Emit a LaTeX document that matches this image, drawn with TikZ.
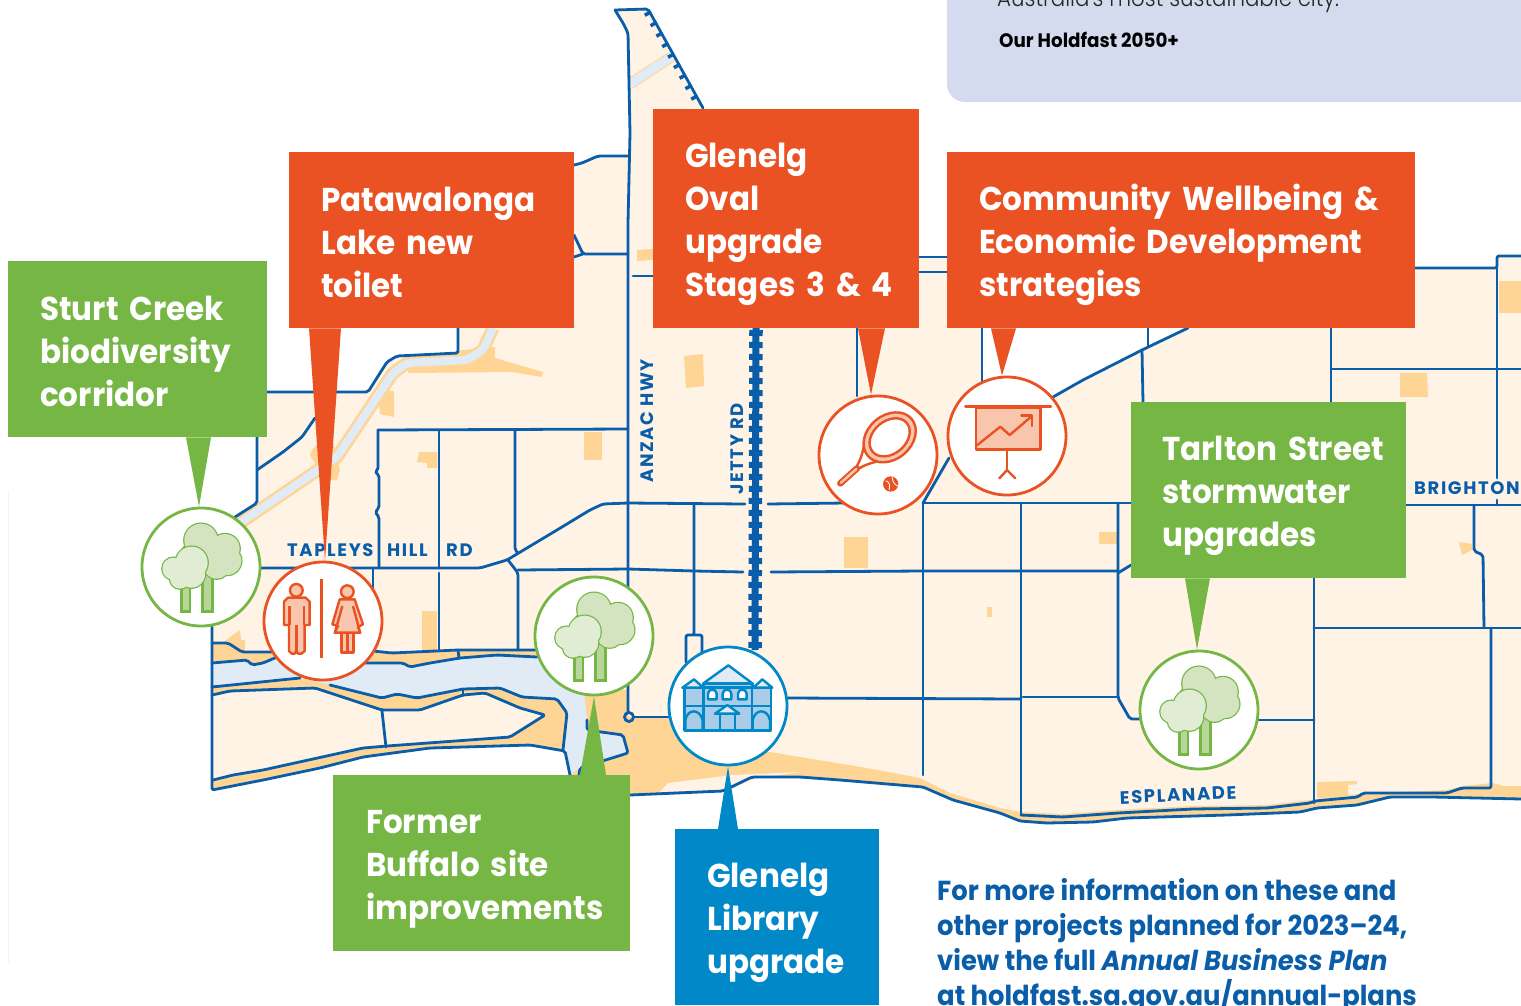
\documentclass[tikz,border=0pt]{standalone}
\usepackage{fontspec}
\newfontfamily\lab[FakeStretch=0.94,BoldFont={Poppins Bold},BoldItalicFont={Poppins Bold Italic}]{Poppins}
\newfontfamily\labthin[FakeStretch=0.89]{Poppins Light}
\newfontfamily\labsp[FakeStretch=1.0,LetterSpace=9,BoldFont={Poppins Bold}]{Poppins}
\definecolor{land}{HTML}{FFF3E5}
\definecolor{sand}{HTML}{FFD596}
\definecolor{water}{HTML}{E1EBF6}
\definecolor{road}{HTML}{0A5DA8}
\definecolor{corange}{HTML}{EA5224}
\definecolor{lorange}{HTML}{F7C6AC}
\definecolor{cgreen}{HTML}{75B644}
\definecolor{cblue}{HTML}{0088C8}
\definecolor{lblue}{HTML}{A9CDE9}
\definecolor{panel}{HTML}{D5DBEF}
\definecolor{treea}{HTML}{D4E3C0}
\definecolor{treeb}{HTML}{E0ECD4}
\definecolor{treec}{HTML}{B8D699}
\tikzset{
  rd/.style={draw=road,line width=2.8pt,line join=round,line cap=round,rounded corners=2pt},
  callout/.style={anchor=north west,inner ysep=0pt,text=white,align=left,font=\lab\bfseries\fontsize{33}{43}\selectfont},
  disc/.style={circle,fill=white,line width=2.8pt,minimum size=118pt,inner sep=0pt},
  maptext/.style={text=road,font=\labsp\bfseries\fontsize{18}{20}\selectfont,inner sep=0pt}
}
\newcommand\tp{\rule{0pt}{36pt}}
\newcommand\bt{\rule[-8pt]{0pt}{8pt}}
\newcommand\ptr[5]{\fill[#5] ([xshift=#2pt]#1) -- ([xshift=#3pt]#1) -- (#4) -- cycle;}
\newcommand\treeicon[1]{%
 \begin{scope}[shift={(#1.center)}]\begin{scope}[x=.3333pt,y=-.3333pt,shift={(-213,-740)}]
  \tikzset{tl/.style={draw=cgreen,line width=2.4pt}}
  \draw[tl,fill=treec] (218,760) rectangle (247,873);
  \draw[tl,fill=treec] (155,790) rectangle (180,873);
  \foreach \a/\b/\r in {213/660/50,285/685/44,292/722/42,260/735/40,190/710/40}{\draw[tl,fill=treea] (\a,\b) circle[radius=\r];}
  \foreach \a/\b/\r in {213/660/50,285/685/44,292/722/42,260/735/40,190/710/40,235/700/50}{\fill[treea] (\a,\b) circle[radius=\r];}
  \foreach \a/\b/\r in {185/727/48,130/745/33,150/775/30,185/762/40}{\draw[tl,fill=treeb] (\a,\b) circle[radius=\r];}
  \foreach \a/\b/\r in {185/727/48,130/745/33,150/775/30,185/762/40,165/750/30}{\fill[treeb] (\a,\b) circle[radius=\r];}
 \end{scope}\end{scope}}
\begin{document}
\begin{tikzpicture}[x=1pt,y=-1pt]
\useasboundingbox (0,0) rectangle (1521,1005);
\clip (0,0) rectangle (1521,1005);
\fill[white] (0,0) rectangle (1521,1005);
\draw[land,line width=1pt] (8.5,491) -- (8.5,964);
% panel
\fill[panel,rounded corners=18pt] (947,-40) rectangle (1560,102);
\node[anchor=base west,inner sep=0pt,font=\labthin\fontsize{24}{28}\selectfont,text=black!85] (ptop) at (997,6) {Australia's most sustainable city.};
\node[anchor=base west,inner sep=0pt,font=\lab\bfseries\fontsize{19.5}{24}\selectfont,text=black] (pname) at (999,47) {Our Holdfast 2050+};
% land
\fill[land] (212,627) -- (235,517) -- (257,503) -- (257,392) -- (368,392) -- (387,362) -- (397,356) -- (458,353) -- (458,328) -- (470,250) -- (574,165) -- (582,163) -- (598,156) -- (628,156) -- (630,133) -- (628,33) -- (623,23) -- (615,10) -- (648,9) -- (703,108) -- (703,200) -- (919,257) -- (982,257) -- (982,390) -- (1000,430) -- (1053,397) -- (1083,380) -- (1142,350) -- (1188,328) -- (1300,268) -- (1497,268) -- (1497,256) -- (1521,256) -- (1521,799) -- (1433,797) -- (1390,797) -- (1357,805) -- (1317,808) -- (1300,812) -- (1227,815) -- (1127,818) -- (1093,822) -- (1047,823) -- (1020,821) -- (1000,813) -- (953,800) -- (923,787) -- (840,780) -- (800,777) -- (752,777) -- (723,791) -- (630,795) -- (575,795) -- (570,775) -- (565,751) -- (530,745) -- (497,746) -- (430,748) -- (363,757) -- (320,768) -- (263,780) -- (212,790) -- cycle;
% sand patches
\fill[sand] (212,643) -- (228,643) -- (242,652) -- (373,651) -- (392,653) -- (458,650) -- (537,650) -- (590,650) -- (590,760) -- (565,751) -- (530,745) -- (497,746) -- (430,748) -- (363,757) -- (320,768) -- (263,780) -- (212,790) -- cycle;
\fill[sand] (587,690) -- (628,690) -- (628,717) -- (670,717) -- (700,745) -- (770,752) -- (867,768) -- (920,778) -- (950,793) -- (1000,808) -- (1021,812) -- (1063,814) -- (1118,810) -- (1193,806) -- (1267,805) -- (1310,800) -- (1358,794) -- (1447,790) -- (1462,786) -- (1493,783) -- (1503,786) -- (1521,786) -- (1521,799) -- (1433,797) -- (1390,797) -- (1357,805) -- (1317,808) -- (1300,812) -- (1227,815) -- (1127,818) -- (1093,822) -- (1047,823) -- (1020,821) -- (1000,813) -- (953,800) -- (923,787) -- (840,780) -- (800,777) -- (752,777) -- (723,791) -- (630,795) -- (575,795) -- (570,775) -- cycle;
\fill[land] (660,792) -- (668,783) -- (733,775) -- (800,772) -- (760,778) -- (730,790) -- cycle;
\fill[sand] (230,637) -- (240,630) -- (241,640) -- (245,640) -- (245,652) -- (212,652) -- cycle;
\fill[sand] (584,432) rectangle (602,460);
\fill[sand] (417,462) -- (419,452) -- (437,452) -- (437,468) -- (427,468) -- (427,463) -- cycle;
\fill[sand] (422,611) rectangle (437,650);
\fill[sand] (684,356) -- (703,354) -- (704,386) -- (686,388) -- cycle;
\fill[sand] (844,537) rectangle (868,568);
\fill[sand] (987,607) rectangle (992,617);
\fill[sand] (1099,532) rectangle (1118,544);
\fill[sand] (1400,373) -- (1427,373) -- (1428,397) -- (1400,397) -- cycle;
\fill[sand] (1499,281) rectangle (1521,313);
\fill[sand] (1459,542) -- (1472,544) -- (1472,550) -- (1462,555) -- cycle;
\fill[sand] (1317,782) -- (1357,781) -- (1357,784) -- (1348,785) -- (1348,797) -- (1317,798) -- cycle;
\fill[sand] (637,250) -- (653,249) -- (653,260) -- (637,261) -- cycle;
\fill[sand] (463,350) -- (495,347) -- (495,358) -- (543,372) -- (542,377) -- (512,372) -- (408,373) -- (408,367) -- cycle;
\fill[sand] (378,390) -- (394,391) -- (394,417) -- (380,414) -- cycle;
\fill[sand] (310,455) -- (312,450) -- (330,430) -- (340,470) -- (337,480) -- (325,480) -- cycle;
% canal
\draw[sand,line width=13pt,line join=round] (493,328) -- (483,350) -- (467,360) -- (407,363) -- (393,373) -- (337,457) -- (240,523);
\draw[water,line width=8pt,line join=round,rounded corners=5pt] (493,328) -- (483,350) -- (467,360) -- (407,363) -- (393,373) -- (337,457) -- (240,523);
\draw[sand,line width=11pt] (630,84) -- (671,57);
\draw[water,line width=9pt] (630,84) -- (671,57);
% river water
\fill[water] (212,663) -- (247,660) -- (252,665) -- (263,663) -- (277,657) -- (300,655) -- (365,663) -- (403,663) -- (410,667) -- (430,663) -- (460,658) -- (497,655) -- (537,657) -- (580,660) -- (585,700) -- (587,720) -- (587,730) -- (623,735) -- (628,753) -- (580,768) -- (570,775) -- (563,750) -- (567,713) -- (557,699) -- (522,697) -- (500,688) -- (463,689) -- (417,698) -- (397,694) -- (382,698) -- (330,685) -- (300,678) -- (212,687) -- cycle;
% island
\fill[land] (212,695) -- (230,691) -- (315,688) -- (382,710) -- (420,710) -- (463,695) -- (485,693) -- (520,708) -- (545,715) -- (510,737) -- (387,746) -- (363,748) -- (263,770) -- (233,775) -- (213,780) -- cycle;
% roads
\draw[rd] (212,627) -- (212,790) -- (263,780) -- (320,768) -- (363,757) -- (430,748) -- (497,746) -- (530,745) -- (565,751) -- (570,775);
\draw[rd] (212,643) -- (228,643) -- (242,652) -- (277,652);
\draw[rd] (373,651) -- (392,653) -- (458,650) -- (537,650);
\draw[rd] (212,663) -- (247,660) -- (252,665) -- (263,663) -- (277,657);
\draw[rd] (365,663) -- (403,663) -- (410,667) -- (430,663) -- (460,658) -- (497,655) -- (537,657);
\draw[rd] (458,650) -- (459,658);
\draw[rd] (212,687) -- (300,678);
\draw[rd] (330,685) -- (382,698) -- (397,694) -- (417,698) -- (463,689) -- (500,688) -- (522,697) -- (557,699) -- (567,713) -- (563,750);
\draw[rd] (463,689) -- (463,695);
\draw[rd] (212,695) -- (230,691) -- (315,688) -- (382,710) -- (420,710) -- (463,695) -- (485,693) -- (520,708) -- (545,715) -- (510,737) -- (387,746) -- (363,748) -- (263,770) -- (233,775) -- (213,780);
\draw[rd] (382,711) -- (386,747);
\draw[rd] (587,720) -- (587,730) -- (623,735) -- (628,753) -- (580,768) -- (579,775);
\draw[rd] (257,437) -- (257,503) -- (235,517);
\draw[rd] (257,470) -- (283,452) -- (302,437) -- (315,418);
\draw[rd] (458,328) -- (458,353) -- (397,356) -- (387,362) -- (368,392) -- (267,392);
\draw[rd] (378,430) -- (628,429);
\draw[rd] (378,430) -- (378,470) -- (375,472) -- (379,475) -- (379,508) -- (375,512) -- (379,517) -- (379,568);
\draw[rd] (439,430) -- (439,568);
\draw[rd] (515,430) -- (515,550) -- (518,553);
\draw[rd] (260,568) -- (480,568) -- (507,560) -- (557,530) -- (590,510) -- (603,504) -- (628,503) -- (745,504);
\draw[rd] (508,560) -- (518,573) -- (518,650);
\draw[rd] (518,570) -- (628,569) -- (695,571) -- (743,572);
\draw[rd] (373,568) -- (373,590);
\draw[rd] (439,573) -- (439,650);
\draw[rd] (574,165) -- (582,163) -- (598,156) -- (628,156);
\draw[rd] (574,235) -- (583,254) -- (628,254);
\draw[rd] (574,257) -- (583,254);
\draw[rd] (633,276) -- (653,276);
\draw[rd] (919,257) -- (947,257);
\draw[rd] (919,272) -- (947,272);
\draw[rd] (615,10) -- (623,23) -- (628,33) -- (630,133) -- (628,223) -- (628,712);
\draw[rd] (615,10) -- (648,9) -- (703,108);
\draw[road,line width=7pt,dash pattern=on 3.5pt off 8.5pt] (647,12) -- (699,106);
\draw[rd] (694,504) -- (694,635) -- (686,635) -- (686,662);
\draw[rd] (694,635) -- (702,635) -- (702,655);
\draw[road,line width=2.8pt] (629,717) circle[radius=4.5];
\draw[rd] (634,717) -- (670,717);
\draw[rd] (768,504) -- (845,503);
\draw[rd] (923,503) -- (1120,503) -- (1131,503);
\draw[rd] (771,572) -- (922,571) -- (1118,571) ;
\draw[rd] (1118,573) -- (1131,565);
\draw[rd] (787,698) -- (1021,699);
\draw[rd] (1023,697) -- (1118,697);
\draw[rd] (857,328) -- (857,396);
\draw[rd] (982,328) -- (982,385);
\draw[rd] (923,503) -- (949,458);
\draw[rd] (923,503) -- (923,775);
\draw[rd] (1021,504) -- (1021,815);
\draw[rd] (1118,503) -- (1118,698) -- (1130,719) -- (1145,719);
\draw[rd] (1053,397) -- (1083,380) -- (1142,350) -- (1188,328);
\draw[rd] (1148,328) -- (1148,347);
\draw[rd] (1142,350) -- (1143,402);
\draw[rd] (1331,328) -- (1331,402);
\draw[rd] (1331,369) -- (1521,369);
\draw[rd] (1415,268) -- (1497,268) -- (1497,256) -- (1521,256);
\draw[rd] (1497,268) -- (1497,478);
\draw[rd] (1497,500) -- (1497,505);
\draw[rd] (1406,505) -- (1521,505);
\draw[rd] (1474,505) -- (1474,551) -- (1483,555) -- (1484,628);
\draw[rd] (1314,578) -- (1314,803);
\draw[rd] (1314,628) -- (1521,628);
\draw[rd] (1491,628) -- (1491,788) -- (1462,788) -- (1447,793) -- (1363,793) -- (1358,797) -- (1315,801) -- (1310,803) -- (1267,808) -- (1193,809) -- (1118,813) -- (1063,817) -- (1021,815);
\draw[rd] (1258,720) -- (1314,720);
\draw[rd] (630,795) -- (723,791) -- (752,777) -- (800,777) -- (840,780) -- (923,787) -- (953,800) -- (1000,813) -- (1020,821) -- (1047,823) -- (1093,822) -- (1127,818) -- (1227,815) -- (1300,812) -- (1317,808) -- (1357,805) -- (1390,797) -- (1433,797) -- (1521,799);
% jetty
\draw[road,line width=7pt] (756,328) -- (755,650);
\draw[road,line width=13.5pt,dash pattern=on 6pt off 6pt] (756,330) -- (755,650);
% map labels
\node[maptext,anchor=base west] (t1) at (287,556) {TAPLEYS};
\node[maptext,anchor=base west] (t2) at (387,556) {HILL};
\node[maptext,anchor=base west] (t3) at (446,556) {RD};
\node[maptext,anchor=base west,rotate=90] (t4) at (653,483) {ANZAC HWY};
\node[maptext,anchor=base west,rotate=90] (t5) at (743,495) {JETTY RD};
\node[maptext,anchor=base west] (t6) at (1414,494) {BRIGHTON};
\node[maptext,anchor=base west,rotate=2.5] (t7) at (1120,804) {ESPLANADE};
% discs
\node[disc,draw=cgreen] (c1) at (201,567) {};
\node[disc,draw=corange] (c2) at (323,621) {};
\node[disc,draw=cgreen] (c3) at (594,636) {};
\node[disc,draw=cblue] (c4) at (728,706) {};
\node[disc,draw=corange] (c5) at (878,455) {};
\node[disc,draw=corange] (c6) at (1007,436) {};
\node[disc,draw=cgreen] (c7) at (1199,710) {};
% callouts
\node[callout,fill=cgreen,minimum width=259pt,minimum height=176pt,text width=195pt,inner xsep=32pt] (b1) at (8,261) {\tp\mbox{Sturt Creek}\\\mbox{biodiversity}\\corridor\bt};
\node[callout,fill=corange,minimum width=285pt,minimum height=176pt,text width=221pt,inner xsep=32pt] (b2) at (289,152) {\tp\mbox{Patawalonga}\\Lake new\\toilet\bt};
\node[callout,fill=corange,minimum width=266pt,minimum height=219pt,text width=202pt,inner xsep=32pt] (b3) at (653,109) {\tp Glenelg\\Oval\\upgrade\\\mbox{Stages 3 \& 4}\bt};
\node[callout,fill=corange,minimum width=468pt,minimum height=176pt,text width=404pt,inner xsep=32pt] (b4) at (947,152) {\tp\mbox{Community Wellbeing \&}\\\mbox{Economic Development}\\strategies\bt};
\node[callout,fill=cgreen,minimum width=275pt,minimum height=176pt,text width=213pt,inner xsep=31pt] (b5) at (1131,402) {\tp\mbox{Tarlton Street}\\stormwater\\upgrades\bt};
\node[callout,fill=cgreen,minimum width=297pt,minimum height=176pt,text width=231pt,inner xsep=33pt] (b6) at (333,775) {\tp Former\\\mbox{Buffalo site}\\\mbox{improvements}\bt};
\node[callout,fill=cblue,minimum width=204pt,minimum height=176pt,text width=140pt,inner xsep=32pt] (b7) at (675,829) {\tp Glenelg\\Library\\\mbox{upgrade}\bt};
% pointers
\ptr{b1.south west}{178}{203}{[xshift=-2pt]c1.north}{cgreen}
\ptr{b2.south west}{20}{52}{[xshift=2pt]c2.north}{corange}
\ptr{b3.south west}{205}{232}{[xshift=-7pt]c5.north}{corange}
\ptr{b4.south west}{44}{69}{[xshift=-5pt]c6.north}{corange}
\ptr{b5.south west}{54}{79}{[xshift=-2pt]c7.north}{cgreen}
\ptr{b6.north west}{247}{273}{c3.south}{cgreen}
\ptr{b7.north west}{43}{63}{c4.south}{cblue}
% icons
\treeicon{c1}\treeicon{c3}\treeicon{c7}
% toilet
\begin{scope}[shift={(c2.center)}]\begin{scope}[x=.3333pt,y=-.3333pt,shift={(-580,-900)}]
\tikzset{ol/.style={draw=corange,line width=2.4pt,line join=round,fill=lorange}}
\draw[corange,line width=2.4pt] (575,773) -- (575,1012);
\draw[ol] (500,808) circle[radius=19];
\draw[ol] (475,830) -- (528,830) -- (540,842) -- (540,912) -- (525,912) -- (525,990) -- (515,998) -- (505,998) -- (500,990) -- (495,998) -- (486,998) -- (478,990) -- (478,912) -- (463,912) -- (463,842) -- cycle;
\draw[corange,line width=2.4pt] (500,912) -- (500,990) (480,855) -- (480,912) (523,855) -- (523,912);
\draw[ol] (653,812) circle[radius=19];
\draw[ol] (635,935) rectangle (672,995);
\draw[corange,line width=2.4pt] (653,935) -- (653,995);
\draw[ol] (630,835) -- (675,835) -- (700,910) -- (685,918) -- (692,935) -- (615,935) -- (625,915) -- (608,910) -- cycle;
\draw[corange,line width=2.4pt] (638,855) -- (617,930) (670,855) -- (690,930);
\end{scope}\end{scope}
% library
\begin{scope}[shift={(c4.center)}]\begin{scope}[x=.3333pt,y=-.3333pt,shift={(-384,-1155)}]
\tikzset{bl/.style={draw=cblue,line width=2.4pt,line join=round}}
\draw[bl,fill=lblue] (253,1100) rectangle (513,1228);
\draw[bl,fill=water] (310,1087) -- (385,1033) -- (457,1087) -- cycle;
\draw[bl,fill=lblue] (310,1087) rectangle (457,1100);
\draw[bl,fill=water] (247,1100) -- (282,1075) -- (310,1100) -- cycle;
\draw[bl,fill=water] (460,1100) -- (487,1075) -- (517,1100) -- cycle;
\draw[bl] (311,1100) -- (311,1228) (456,1100) -- (456,1228);
\draw[bl] (253,1155) -- (513,1155);
\foreach \wx in {337,381,427}{\draw[bl,fill=white] (\wx-13,1135) -- (\wx-13,1118) .. controls (\wx-13,1102) and (\wx+13,1102) .. (\wx+13,1118) -- (\wx+13,1135) -- cycle;}
\draw[bl,fill=lblue] (256,1228) -- (256,1198) .. controls (262,1162) and (300,1162) .. (308,1198) -- (308,1228) -- cycle;
\draw[bl,fill=lblue] (458,1228) -- (458,1198) .. controls (465,1162) and (503,1162) .. (510,1198) -- (510,1228) -- cycle;
\draw[bl,fill=lblue] (360,1178) rectangle (405,1228);
\draw[bl,fill=water] (345,1178) -- (382,1152) -- (418,1178) -- cycle;
\end{scope}\end{scope}
% racket
\begin{scope}[shift={(c5.center)}]\begin{scope}[x=.3333pt,y=-.3333pt,shift={(-835,-405)}]
\tikzset{rk/.style={draw=corange,line width=2.4pt,line cap=round,line join=round}}
\draw[rk] (798,350) .. controls (790,395) and (785,415) .. (772,437);
\draw[rk] (780,445) .. controls (800,430) and (835,425) .. (865,415);
\draw[rk,fill=lorange,rotate around={40:(870,352)}] (870,352) ellipse[x radius=86,y radius=66];
\draw[rk,fill=white,rotate around={40:(870,352)}] (870,352) ellipse[x radius=67,y radius=49];
\draw[corange,line width=6.5pt,line cap=round] (772,445) -- (722,490);
\draw[lorange,line width=2.5pt,line cap=round] (770,447) -- (724,488);
\fill[corange] (873,492) circle[radius=23];
\draw[white,line width=.8pt] (858,482) .. controls (870,485) and (872,498) .. (868,510) (878,472) .. controls (878,485) and (885,495) .. (895,498);
\end{scope}\end{scope}
% chart
\begin{scope}[shift={(c6.center)}]\begin{scope}[x=.3333pt,y=-.3333pt,shift={(-1220,-350)}]
\tikzset{ch/.style={draw=corange,line width=2.4pt,line join=round,line cap=round}}
\draw[ch,fill=lorange] (1127,265) rectangle (1320,390);
\draw[ch] (1095,262) -- (1352,262);
\draw[ch,fill=none] (1130,378) -- (1200,322) -- (1228,347) -- (1295,290);
\draw[ch] (1263,288) -- (1295,288) -- (1295,320);
\draw[ch] (1220,392) -- (1220,452);
\draw[ch] (1197,477) -- (1220,452) -- (1245,477);
\end{scope}\end{scope}
% info text
\node[anchor=north west,inner sep=0pt,align=left,text=road,font=\lab\bfseries\fontsize{27.5}{35}\selectfont] (info) at (937,878) {For more information on these and\\other projects planned for 2023–24,\\view the full \textit{Annual Business Plan}\\at holdfast.sa.gov.au/annual-plans};
\end{tikzpicture}
\end{document}
